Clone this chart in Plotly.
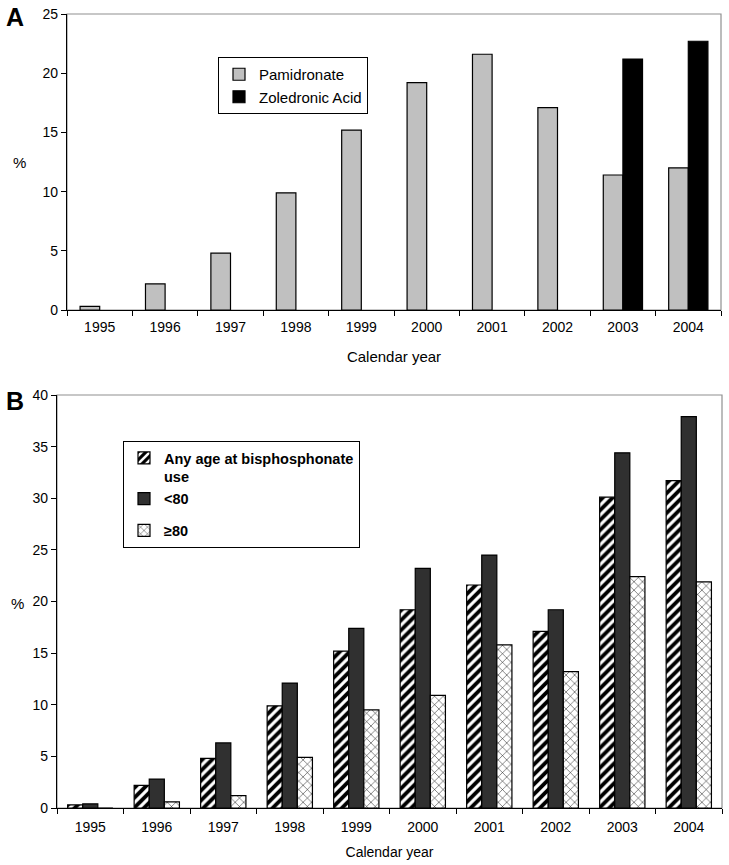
import plotly.graph_objects as go

years = ["1995", "1996", "1997", "1998", "1999", "2000", "2001", "2002", "2003", "2004"]

# Panel A
pamidronate = [0.3, 2.2, 4.8, 9.9, 15.2, 19.2, 21.6, 17.1, 11.4, 12.0]
zoledronic = [None, None, None, None, None, None, None, None, 21.2, 22.7]

# Panel B
any_age = [0.3, 2.2, 4.8, 9.9, 15.2, 19.2, 21.6, 17.1, 30.1, 31.7]
under80 = [0.4, 2.8, 6.3, 12.1, 17.4, 23.2, 24.5, 19.2, 34.4, 37.9]
over80 = [0.0, 0.6, 1.2, 4.9, 9.5, 10.9, 15.8, 13.2, 22.4, 21.9]

W, H = 729, 865
FONT = "Liberation Sans, Arial, Helvetica, sans-serif"

def px_x(p):
    return p / W

def px_y(p):
    return 1 - p / H

fig = go.Figure()

line = dict(color="black", width=1.2)

fig.add_trace(go.Bar(x=years, y=pamidronate, name="Pamidronate", xaxis="x", yaxis="y",
                     marker=dict(color="#c0c0c0", line=line), width=0.3, offset=-0.3,
                     legend="legend"))
fig.add_trace(go.Bar(x=years, y=zoledronic, name="Zoledronic Acid", xaxis="x", yaxis="y",
                     marker=dict(color="black", line=line), width=0.3, offset=0.0,
                     legend="legend"))

fig.add_trace(go.Bar(x=years, y=any_age, name="Any age at bisphosphonate<br>use", xaxis="x2", yaxis="y2",
                     marker=dict(color="black", line=line,
                                 pattern=dict(shape="/", fgcolor="white", bgcolor="black",
                                              size=7, solidity=0.45, fillmode="replace")),
                     width=0.227, offset=-0.34, legend="legend2", legendgroup="g1"))
fig.add_trace(go.Bar(x=years, y=under80, name="<80", xaxis="x2", yaxis="y2",
                     marker=dict(color="#303030", line=line), width=0.227, offset=-0.113,
                     legend="legend2", legendgroup="g1"))
fig.add_trace(go.Bar(x=years, y=over80, name="≥80", xaxis="x2", yaxis="y2",
                     marker=dict(color="white", line=line,
                                 pattern=dict(shape="x", fgcolor="black", bgcolor="white",
                                              size=6, solidity=0.15, fillmode="replace")),
                     width=0.227, offset=0.114, legend="legend2", legendgroup="g2"))

axis_common = dict(showline=True, linecolor="black", linewidth=1.3, ticks="outside",
                   tickcolor="black", ticklen=5, tickwidth=1.3, showgrid=False, zeroline=False,
                   automargin=False,
                   tickfont=dict(family=FONT, size=14, color="black"))

fig.update_layout(
    width=W, height=H,
    margin=dict(l=0, r=0, t=0, b=0, autoexpand=False),
    paper_bgcolor="white", plot_bgcolor="white",
    barmode="overlay",
    font=dict(family=FONT, size=14, color="black"),
    xaxis=dict(domain=[px_x(67), px_x(721)], anchor="y", type="category",
               tickson="boundaries", ticklabelstandoff=4,
               title=dict(text="Calendar year", font=dict(family=FONT, size=15), standoff=17),
               **axis_common),
    yaxis=dict(domain=[px_y(310), px_y(14)], anchor="x", range=[0, 25], dtick=5,
               **axis_common),
    xaxis2=dict(domain=[px_x(57), px_x(722)], anchor="y2", type="category",
                tickson="boundaries", ticklabelstandoff=6,
                title=dict(text="Calendar year", font=dict(family=FONT, size=14), standoff=13),
                **axis_common),
    yaxis2=dict(domain=[px_y(808), px_y(395)], anchor="x2", range=[0, 40], dtick=5,
                **axis_common),
    legend=dict(x=px_x(218), y=px_y(57), xanchor="left", yanchor="top",
                bgcolor="white", bordercolor="black", borderwidth=1,
                font=dict(family=FONT, size=15, color="black"),
                itemwidth=30, traceorder="normal", itemclick=False),
    legend2=dict(x=px_x(123), y=px_y(441), xanchor="left", yanchor="top",
                 bgcolor="white", bordercolor="black", borderwidth=1,
                 font=dict(family=FONT, size=14.5, color="black", weight="bold"),
                 itemwidth=30, traceorder="grouped", tracegroupgap=10, valign="top",
                 itemclick=False),
    showlegend=True,
)

# gray frame (top/right) for both panels
for xr, yr in (("x domain", "y domain"), ("x2 domain", "y2 domain")):
    fig.add_shape(type="rect", xref=xr, yref=yr, x0=0, x1=1, y0=0, y1=1,
                  line=dict(color="#909090", width=1.2), layer="below")

# y-axis "%" labels and panel letters
ann = dict(xref="paper", yref="paper", showarrow=False, xanchor="center", yanchor="middle")
fig.add_annotation(text="%", x=px_x(19), y=px_y(163), font=dict(family=FONT, size=15), **ann)
fig.add_annotation(text="%", x=px_x(17), y=px_y(603), font=dict(family=FONT, size=15), **ann)
fig.add_annotation(text="<b>A</b>", x=px_x(15), y=px_y(17), font=dict(family=FONT, size=25), **ann)
fig.add_annotation(text="<b>B</b>", x=px_x(15), y=px_y(401), font=dict(family=FONT, size=25), **ann)

fig.write_html(
    "out.html",
    config={"displayModeBar": False},
    post_script=(
        "document.body.style.margin='0';"
        "document.body.style.overflow='hidden';"
        "document.documentElement.style.overflow='hidden';"
    ),
)
